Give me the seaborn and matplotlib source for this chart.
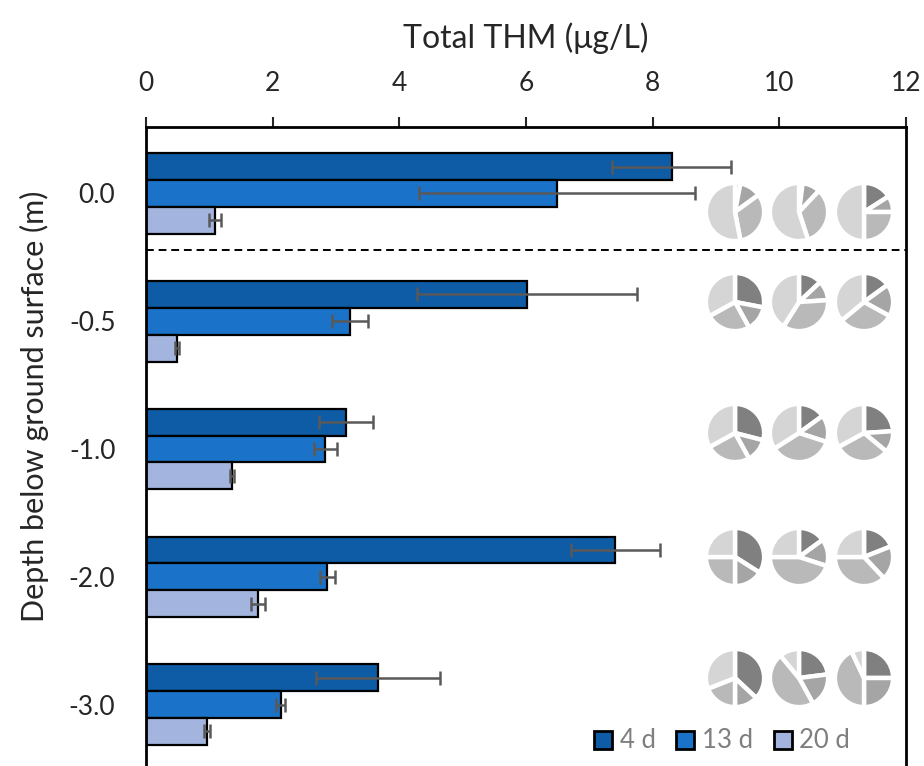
import numpy as np
import pandas as pd
import matplotlib
matplotlib.use("Agg")
import matplotlib.pyplot as plt
from matplotlib.patches import Patch
import seaborn as sns

# depth categories and sampling times
depths = ["0.0", "-0.5", "-1.0", "-2.0", "-3.0"]
times = ["4 d", "13 d", "20 d"]

# total THM (ug/L) per depth, one list per time
thm_4d = [8.30, 6.02, 3.16, 7.41, 3.66]
thm_13d = [6.49, 3.22, 2.83, 2.86, 2.13]
thm_20d = [1.09, 0.49, 1.36, 1.77, 0.96]

# error bar half-widths
err_4d = [0.94, 1.74, 0.43, 0.70, 0.98]
err_13d = [2.18, 0.28, 0.18, 0.12, 0.07]
err_20d = [0.10, 0.03, 0.03, 0.11, 0.05]

# THM species fractions per pie (dark, mid, light, lightest), rows = depth, cols = time
pie_fracs = [
    [[0.03, 0.12, 0.32, 0.53], [0.02, 0.10, 0.33, 0.55], [0.16, 0.09, 0.25, 0.50]],
    [[0.28, 0.14, 0.25, 0.33], [0.13, 0.11, 0.35, 0.41], [0.15, 0.18, 0.31, 0.36]],
    [[0.29, 0.13, 0.25, 0.33], [0.15, 0.15, 0.36, 0.34], [0.24, 0.12, 0.31, 0.33]],
    [[0.34, 0.16, 0.25, 0.25], [0.15, 0.15, 0.45, 0.25], [0.19, 0.19, 0.37, 0.25]],
    [[0.37, 0.13, 0.19, 0.31], [0.23, 0.19, 0.47, 0.11], [0.25, 0.25, 0.43, 0.07]],
]

bar_colors = ["#0e5ba6", "#1a73c9", "#a3b5de"]
pie_colors = ["#808080", "#a5a5a5", "#b9b9b9", "#d5d5d5"]

df = pd.DataFrame({
    "depth": depths * 3,
    "thm": thm_4d + thm_13d + thm_20d,
    "err": err_4d + err_13d + err_20d,
    "time": [t for t in times for _ in depths],
})

sns.set_style("white")
plt.rcParams["font.family"] = ["Lato", "DejaVu Sans"]

fig = plt.figure(figsize=(9.24, 7.66), dpi=100)
ax = fig.add_axes([146 / 924, 0.0, 760 / 924, 639 / 766])

sns.barplot(
    data=df, y="depth", x="thm", hue="time", order=depths, hue_order=times,
    orient="h", palette=bar_colors, width=0.63, errorbar=None,
    edgecolor="black", linewidth=1.6, saturation=1, legend=False, ax=ax,
)

# custom error bars on top of each bar
for cont, t in zip(ax.containers, times):
    errs = df[df["time"] == t].set_index("depth").loc[depths, "err"].values
    ys = [b.get_y() + b.get_height() / 2 for b in cont]
    xs = [b.get_width() for b in cont]
    ax.errorbar(xs, ys, xerr=errs, fmt="none", ecolor="#595959",
                elinewidth=1.8, capsize=5, capthick=1.8, zorder=5)

ax.axhline(0.44, color="black", linestyle=(0, (4, 2.5)), linewidth=1.4, zorder=1)

ax.set_xlim(0, 12)
ax.set_xticks(np.arange(0, 13, 2))
ax.set_ylim(4.48, -0.52)
ax.xaxis.tick_top()
ax.xaxis.set_label_position("top")
ax.set_xlabel("Total THM (μg/L)", fontsize=23, labelpad=17)
ax.set_ylabel("Depth below ground surface (m)", fontsize=22)
ax.yaxis.set_label_coords(-0.128, 0.563)
ax.tick_params(axis="x", direction="out", length=7, width=1.5, labelsize=19, pad=15)
ax.tick_params(axis="y", length=0, labelsize=19, pad=22)
for side in ["top", "left", "right"]:
    ax.spines[side].set_linewidth(2)
    ax.spines[side].set_color("black")
ax.spines["bottom"].set_visible(False)

# pie charts of THM species
pie_x = [735, 799, 864]
pie_y = [212, 302, 433, 557, 678]
size = 60
for r, row in enumerate(pie_fracs):
    for c, fr in enumerate(row):
        pax = fig.add_axes([(pie_x[c] - size / 2) / 924, 1 - (pie_y[r] + size / 2) / 766,
                            size / 924, size / 766])
        pax.pie(fr, colors=pie_colors, startangle=90, counterclock=False,
                radius=1.0, wedgeprops=dict(edgecolor="white", linewidth=3.2))
        pax.set_xlim(-1.03, 1.03)
        pax.set_ylim(-1.03, 1.03)
        pax.set_aspect("equal")
        pax.axis("off")

handles = [Patch(facecolor=col, edgecolor="black", linewidth=2) for col in bar_colors]
fig.legend(handles, times, loc="center", bbox_to_anchor=(722 / 924, 25 / 766), ncol=3,
           frameon=False, fontsize=18.5, labelcolor="#7f7f7f", handlelength=0.7,
           handleheight=0.7, handletextpad=0.3, columnspacing=0.8)

fig.savefig("out.png", dpi=100)
